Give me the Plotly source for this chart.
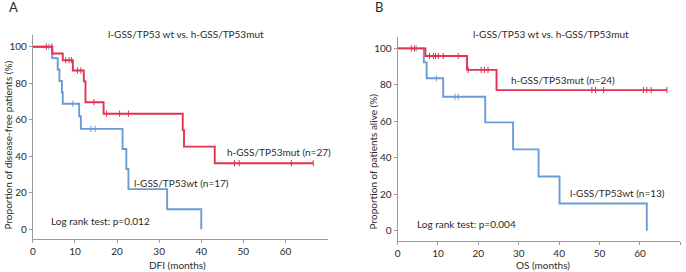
import plotly.graph_objects as go

W, H = 686, 272
RED = "#E3314F"
BLUE = "#6A9BD3"
AXC = "#9A9A9A"
TXT = "#2A2A2A"
FONT = "Lato"

# ---------------- Panel A (DFI) ----------------
a_red_t = [0, 4.6, 7.1, 9.5, 12.1, 12.5, 16.8, 35.6, 35.9, 43.2, 66.6]
a_red_s = [100, 96.3, 92.6, 87.0, 81.0, 69.6, 63.3, 54.3, 45.3, 36.2, 36.2]
a_red_cens_t = [3.2, 4.5, 7.8, 8.6, 9.2, 10.6, 11.4, 14.5, 17.5, 20.6, 22.7, 47.9, 49.0, 61.4, 66.6]
a_red_cens_s = [100, 100, 92.6, 92.6, 92.6, 87.0, 87.0, 69.6, 63.3, 63.3, 63.3, 36.2, 36.2, 36.2, 36.2]

a_blue_t = [0, 4.6, 5.9, 6.3, 6.9, 7.1, 11.0, 11.4, 21.3, 22.2, 22.7, 31.9, 40.0]
a_blue_s = [100, 93.75, 87.5, 81.25, 75.0, 68.75, 61.9, 55.0, 44.0, 33.0, 22.0, 11.0, 0]
a_blue_cens_t = [3.8, 9.5, 13.8, 14.8]
a_blue_cens_s = [100, 68.75, 55.0, 55.0]

a_xticks = [0, 10, 20, 30, 40, 50, 60]

# ---------------- Panel B (OS) ----------------
b_red_t = [0, 6.9, 17.2, 24.5, 66.7]
b_red_s = [100, 95.8, 88.2, 77.1, 77.1]
b_red_cens_t = [3.4, 4.2, 7.9, 8.9, 9.4, 10.1, 11.3, 15.0, 17.5, 20.7, 21.5, 22.4,
                48.1, 49.0, 51.0, 60.9, 61.7, 62.8, 66.7]
b_red_cens_s = [100, 100, 95.8, 95.8, 95.8, 95.8, 95.8, 95.8, 88.2, 88.2, 88.2, 88.2,
                77.1, 77.1, 77.1, 77.1, 77.1, 77.1, 77.1]

b_blue_t = [0, 6.5, 7.2, 11.3, 21.7, 28.6, 34.9, 40.1, 61.7]
b_blue_s = [100, 92.3, 83.6, 73.5, 59.4, 44.6, 29.7, 14.9, 0]
b_blue_cens_t = [4.6, 9.6, 14.2, 15.0]
b_blue_cens_s = [100, 83.6, 73.5, 73.5]

b_xticks = [0, 10, 20, 30, 40, 50, 60, 70]
yticks = [0, 20, 40, 60, 80, 100]


def px(x):
    return x / W


def py(y):
    return 1 - y / H


fig = go.Figure()


def add_curve(t, s, ct, cs, color, xa, ya):
    fig.add_trace(go.Scatter(x=t, y=s, mode="lines", line=dict(color=color, width=1.9, shape="hv"),
                             xaxis=xa, yaxis=ya, showlegend=False, hoverinfo="skip"))
    fig.add_trace(go.Scatter(x=ct, y=cs, mode="markers",
                             marker=dict(symbol="line-ns", size=4.5, line=dict(color=color, width=1)),
                             xaxis=xa, yaxis=ya, showlegend=False, hoverinfo="skip"))


add_curve(a_blue_t, a_blue_s, a_blue_cens_t, a_blue_cens_s, BLUE, "x", "y")
add_curve(a_red_t, a_red_s, a_red_cens_t, a_red_cens_s, RED, "x", "y")
add_curve(b_blue_t, b_blue_s, b_blue_cens_t, b_blue_cens_s, BLUE, "x2", "y2")
add_curve(b_red_t, b_red_s, b_red_cens_t, b_red_cens_s, RED, "x2", "y2")

axis_common = dict(showline=True, linecolor=AXC, linewidth=1, showgrid=False, zeroline=False,
                   ticks="outside", ticklen=3, tickcolor=AXC, tickwidth=1,
                   tickfont=dict(family=FONT, size=10, color=TXT))

fig.update_layout(
    width=W, height=H, margin=dict(l=0, r=0, t=0, b=0),
    paper_bgcolor="white", plot_bgcolor="white",
    xaxis=dict(domain=[px(30), px(326)], range=[0, 70], tickvals=a_xticks, anchor="y", **axis_common),
    yaxis=dict(domain=[py(239), py(35)], range=[-5.3, 106.4], tickvals=yticks, anchor="x", **axis_common),
    xaxis2=dict(domain=[px(396.3), px(680.3)], range=[0, 70], tickvals=b_xticks, anchor="y2", **axis_common),
    yaxis2=dict(domain=[py(240.7), py(36.7)], range=[-5.5, 106.4], tickvals=yticks, anchor="x2", **axis_common),
)


def note(text, x, y, size=10, xanchor="left", angle=0):
    fig.add_annotation(text=text, x=px(x), y=py(y), xref="paper", yref="paper",
                       xanchor=xanchor, yanchor="middle", showarrow=False, textangle=angle,
                       font=dict(family=FONT, size=size, color=TXT))


# Panel A texts
note("A", 11, 7, size=13, xanchor="center")
note("l-GSS/TP53 wt vs. h-GSS/TP53mut", 184, 33.5, xanchor="center")
note("h-GSS/TP53mut (n=27)", 222.5, 151.5)
note("l-GSS/TP53wt (n=17)", 130, 182.5)
note("Log rank test: p=0.012", 46, 221)
note("DFI (months)", 175.5, 264.5, xanchor="center")
note("Proportion of disease-free patients (%)", 5.5, 145, xanchor="center", angle=-90)

# Panel B texts
note("B", 377.5, 7, size=13, xanchor="center")
note("l-GSS/TP53 wt vs. h-GSS/TP53mut", 550.5, 34.3, xanchor="center")
note("h-GSS/TP53mut (n=24)", 508, 80)
note("l-GSS/TP53wt (n=13)", 567, 192.5)
note("Log rank test: p=0.004", 413.5, 224)
note("OS (months)", 542, 265, xanchor="center")
note("Proportion of patients alive (%)", 371.5, 161.5, xanchor="center", angle=-90)

fig.write_html("out.html", config={"displayModeBar": False, "staticPlot": True},
               post_script="document.body.style.margin='0';document.body.style.overflow='hidden';")
